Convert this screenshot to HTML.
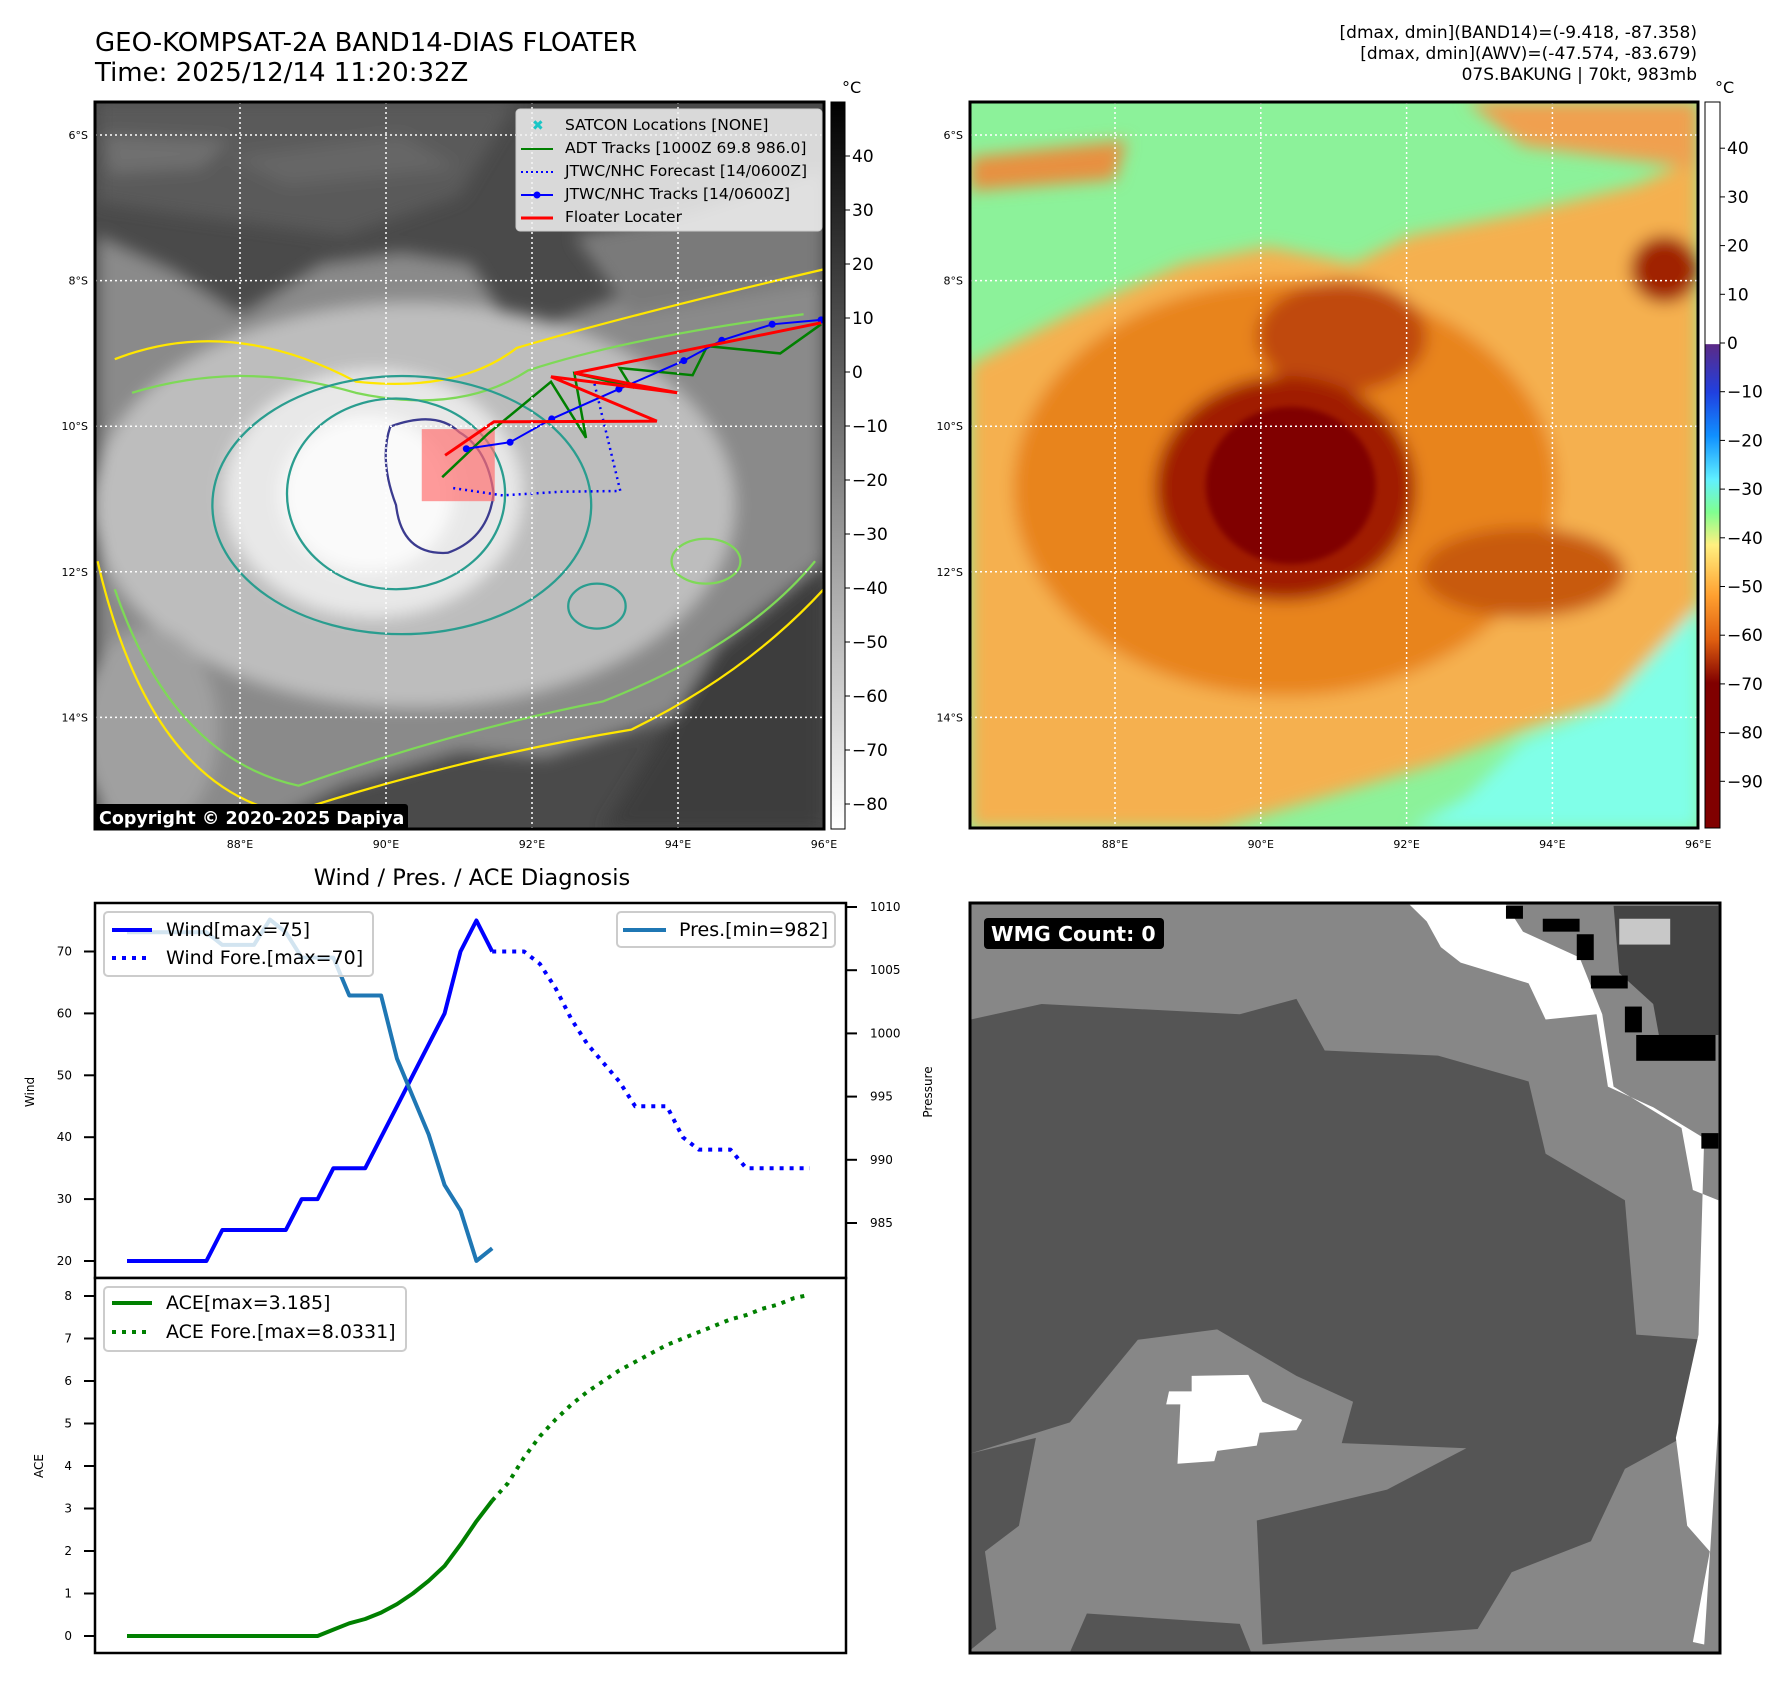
<!DOCTYPE html>
<html><head><meta charset="utf-8">
<style>
html,body{margin:0;padding:0;background:#fff;}
svg text{font-family:"DejaVu Sans","Liberation Sans",sans-serif;}
</style></head>
<body>
<svg id="root" width="1788" height="1690" viewBox="0 0 1788 1690" xmlns="http://www.w3.org/2000/svg">
<defs>
  <filter id="blur8" x="-20%" y="-20%" width="140%" height="140%"><feGaussianBlur stdDeviation="14"/></filter>
  <filter id="blur4"><feGaussianBlur stdDeviation="5"/></filter>
  <linearGradient id="cbGray" x1="0" y1="0" x2="0" y2="1">
    <stop offset="0" stop-color="#000"/><stop offset="1" stop-color="#fff"/>
  </linearGradient>
  <linearGradient id="cbColor" x1="0" y1="0" x2="0" y2="1">
    <stop offset="0" stop-color="#fff"/>
    <stop offset="0.333" stop-color="#fff"/>
    <stop offset="0.334" stop-color="#5b2a86"/>
    <stop offset="0.40" stop-color="#2040e0"/>
    <stop offset="0.46" stop-color="#1090ff"/>
    <stop offset="0.52" stop-color="#60f0ff"/>
    <stop offset="0.565" stop-color="#80ff90"/>
    <stop offset="0.61" stop-color="#fff080"/>
    <stop offset="0.68" stop-color="#ffa030"/>
    <stop offset="0.74" stop-color="#e06010"/>
    <stop offset="0.80" stop-color="#800000"/>
    <stop offset="1" stop-color="#800000"/>
  </linearGradient>
  <clipPath id="clipTL"><rect x="95" y="102" width="729" height="727"/></clipPath>
  <clipPath id="clipTR"><rect x="970" y="102" width="728" height="726"/></clipPath>
  <clipPath id="clipBR"><rect x="970" y="903" width="750" height="750"/></clipPath>
</defs>

<!-- Titles -->
<text x="95" y="51" font-size="26">GEO-KOMPSAT-2A BAND14-DIAS FLOATER</text>
<text x="95" y="81" font-size="26">Time: 2025/12/14 11:20:32Z</text>
<g font-size="17" text-anchor="end">
  <text x="1697" y="38">[dmax, dmin](BAND14)=(-9.418, -87.358)</text>
  <text x="1697" y="59">[dmax, dmin](AWV)=(-47.574, -83.679)</text>
  <text x="1697" y="80">07S.BAKUNG | 70kt, 983mb</text>
</g>

<!-- Top-left IR map -->
<g clip-path="url(#clipTL)">
  <svg x="0" y="0" width="900" height="880" viewBox="0 0 1568 1568" preserveAspectRatio="none">
    <rect x="160" y="175" width="1290" height="1310" fill="#4a4a4a"/>
    <g filter="url(#blur8)">
      <path d="M170,420 L300,480 L420,560 L560,470 L700,450 L820,470 L900,600 L1000,560 L1200,480 L1435,420 L1435,1050 L1350,1150 L1250,1250 L1100,1300 L950,1350 L800,1340 L600,1400 L450,1478 L170,1478 Z" fill="#8a8a8a"/>
      <path d="M1000,420 L1200,380 L1435,300 L1435,500 L1100,560 Z" fill="#7a7a7a"/>
      <ellipse cx="720" cy="900" rx="560" ry="360" fill="#bdbdbd"/>
      <ellipse cx="650" cy="880" rx="260" ry="220" fill="#e8e8e8"/>
      <ellipse cx="640" cy="880" rx="150" ry="140" fill="#fafafa"/>
      <ellipse cx="260" cy="1300" rx="120" ry="180" fill="#a0a0a0"/>
      <path d="M1250,1150 L1435,1000 L1435,1478 L1050,1478 Z" fill="#3c3c3c"/>
      <path d="M170,180 L900,180 L800,350 L600,420 L300,380 L170,360 Z" fill="#5a5a5a"/>
      <path d="M400,280 L700,240 L800,300 L500,330 Z" fill="#666"/>
      <path d="M180,240 L400,250 L350,300 L190,310 Z" fill="#707070"/>
    </g>
    <g fill="none" stroke-width="4">
      <path d="M200,640 Q400,560 620,680 Q800,700 900,620 Q1100,560 1435,480 M170,1000 Q260,1400 500,1450 Q800,1350 1100,1300 Q1300,1200 1435,1050" stroke="#ffe600"/>
      <path d="M230,700 Q420,640 620,700 Q800,740 920,660 Q1100,600 1400,560 M200,1050 Q300,1350 520,1400 Q800,1300 1050,1250 Q1300,1150 1420,1000" stroke="#7ed957"/>
      <ellipse cx="700" cy="900" rx="330" ry="230" stroke="#2a9d8f"/>
      <ellipse cx="690" cy="880" rx="190" ry="170" stroke="#2a9d8f"/>
      <path d="M680,760 Q760,730 800,770 Q850,800 860,880 Q850,960 780,985 Q700,990 690,900 Q660,820 680,760 Z" stroke="#3b3b8f"/>
      <ellipse cx="1040" cy="1080" rx="50" ry="40" stroke="#2a9d8f"/>
      <ellipse cx="1230" cy="1000" rx="60" ry="40" stroke="#7ed957"/>
    </g>
  </svg>
  <rect id="floaterBox" fill="#ff7070" fill-opacity="0.7"/>
  <g id="tracksTL"></g>
</g>
<g id="gridTL" stroke="#fff" stroke-width="1.5" stroke-dasharray="2,3"></g>
<rect x="95" y="102" width="729" height="727" fill="none" stroke="#000" stroke-width="3"/>
<g>
  <rect x="94" y="804" width="314" height="26" rx="3" fill="#000"/>
  <text x="99" y="824" font-size="17.5" font-weight="bold" fill="#fff">Copyright © 2020-2025 Dapiya</text>
</g>

<!-- Map legend -->
<g>
  <rect x="516" y="109" width="306" height="122" rx="4" fill="#f2f2f2" fill-opacity="0.85" stroke="#ccc"/>
  <text x="532" y="130" font-size="14" fill="#1ac6c6" font-weight="bold">✖</text>
  <text x="565" y="130" font-size="15.5">SATCON Locations [NONE]</text>
  <line x1="521" y1="149" x2="553" y2="149" stroke="#008000" stroke-width="2"/>
  <text x="565" y="153" font-size="15.5">ADT Tracks [1000Z 69.8 986.0]</text>
  <line x1="521" y1="172" x2="553" y2="172" stroke="#0000ff" stroke-width="2" stroke-dasharray="2,3"/>
  <text x="565" y="176" font-size="15.5">JTWC/NHC Forecast [14/0600Z]</text>
  <line x1="521" y1="195" x2="553" y2="195" stroke="#0000ff" stroke-width="2"/><circle cx="537" cy="195" r="3.5" fill="#0000ff"/>
  <text x="565" y="199" font-size="15.5">JTWC/NHC Tracks [14/0600Z]</text>
  <line x1="521" y1="218" x2="553" y2="218" stroke="#ff0000" stroke-width="3"/>
  <text x="565" y="222" font-size="15.5">Floater Locater</text>
</g>

<!-- Left colorbar -->
<rect x="831" y="102" width="14" height="727" fill="url(#cbGray)" stroke="#000"/>
<text x="842" y="93" font-size="16">°C</text>
<g id="cbTL" font-size="17"></g>

<!-- Top-right color map -->
<g clip-path="url(#clipTR)">
  <svg x="900" y="0" width="888" height="880" viewBox="0 0 1568 1568" preserveAspectRatio="none">
    <rect x="100" y="170" width="1330" height="1330" fill="#8cf29a"/>
    <g filter="url(#blur8)">
      <path d="M900,1476 L1000,1420 L1100,1320 L1250,1260 L1410,1080 L1410,1476 Z" fill="#80ffe8"/>
      <path d="M124,1280 L200,1300 L250,1476 L124,1476 Z" fill="#80ffe8"/>
      <path d="M124,650 L300,560 L500,470 L650,440 L800,470 L900,420 L1100,380 L1300,330 L1410,280 L1410,1080 L1250,1250 L1100,1300 L950,1360 L750,1420 L560,1476 L124,1476 Z" fill="#f5b050"/>
      <path d="M124,280 L400,250 L380,320 L124,340 Z" fill="#e89040"/>
      <path d="M1000,180 L1410,180 L1410,300 L1100,260 Z" fill="#f0a050"/>
      <ellipse cx="680" cy="870" rx="480" ry="370" fill="#e8841c"/>
      <ellipse cx="780" cy="600" rx="150" ry="100" fill="#c04a08"/>
      <ellipse cx="1100" cy="1020" rx="180" ry="80" fill="#c85a10"/>
      <ellipse cx="1350" cy="480" rx="60" ry="60" fill="#a02000"/>
      <ellipse cx="680" cy="870" rx="230" ry="200" fill="#a01a00"/>
    </g>
    <g filter="url(#blur4)">
      <ellipse cx="690" cy="865" rx="150" ry="140" fill="#800000"/>
    </g>
  </svg>
</g>
<g id="gridTR" stroke="#fff" stroke-width="1.5" stroke-dasharray="2,3"></g>
<rect x="970" y="102" width="728" height="726" fill="none" stroke="#000" stroke-width="3"/>
<rect x="1705" y="102" width="15" height="726" fill="url(#cbColor)" stroke="#000"/>
<text x="1715" y="93" font-size="16">°C</text>
<g id="cbTR" font-size="17"></g>

<!-- Bottom-right WMG -->
<g clip-path="url(#clipBR)">
  <svg x="900" y="880" width="888" height="810" viewBox="0 0 1568 1568" preserveAspectRatio="none">
    <rect x="120" y="40" width="1335" height="1460" fill="#878787"/>
    <path d="M125,270 L250,240 L600,260 L700,230 L750,330 L950,340 L1110,390 L1140,530 L1280,620 L1300,880 L1420,890 L1380,1080 L1280,1140 L1220,1280 L1080,1340 L1020,1450 L640,1480 L630,1240 L860,1180 L1000,1100 L780,1090 L800,1010 L700,960 L560,870 L420,890 L300,1050 L125,1110 Z" fill="#555"/>
    <path d="M125,1110 L240,1080 L210,1250 L150,1300 L170,1450 L125,1490 Z" fill="#555"/>
    <path d="M330,1420 L600,1440 L620,1495 L300,1495 Z" fill="#555"/>
    <path d="M900,48 L1070,48 L1100,100 L1200,150 L1240,260 L1260,400 L1380,480 L1400,600 L1445,620 L1445,1050 L1420,1480 L1400,1475 L1430,1300 L1390,1250 L1370,1080 L1410,880 L1420,500 L1330,440 L1250,400 L1230,260 L1140,270 L1110,200 L990,160 L955,130 L930,80 Z" fill="#fff"/>
    <path d="M1260,50 L1445,50 L1445,300 L1340,300 L1330,240 L1270,180 Z" fill="#444"/>
    <rect x="1270" y="75" width="90" height="50" fill="#c8c8c8"/>
    <rect x="1135" y="75" width="65" height="25" fill="#000"/>
    <rect x="1195" y="105" width="30" height="50" fill="#000"/>
    <rect x="1220" y="185" width="65" height="25" fill="#000"/>
    <rect x="1280" y="245" width="30" height="50" fill="#000"/>
    <rect x="1300" y="300" width="140" height="50" fill="#000"/>
    <rect x="1070" y="50" width="30" height="25" fill="#000"/>
    <rect x="1415" y="490" width="30" height="30" fill="#000"/>
    <path d="M515,960 L615,958 L640,1010 L710,1045 L700,1065 L635,1070 L630,1095 L560,1105 L555,1125 L490,1130 L495,1015 L470,1015 L475,990 L515,990 Z" fill="#fff"/>
  </svg>
</g>
<rect x="970" y="903" width="750" height="750" fill="none" stroke="#000" stroke-width="3"/>
<g>
  <rect x="984" y="918" width="180" height="31" rx="4" fill="#000"/>
  <text x="991" y="941" font-size="20.5" font-weight="bold" fill="#fff">WMG Count: 0</text>
</g>

<!-- Bottom-left diagnosis chart -->
<text x="472" y="885" font-size="22.5" text-anchor="middle">Wind / Pres. / ACE Diagnosis</text>
<rect x="95" y="903" width="751" height="375" fill="#fff" stroke="#000" stroke-width="2.5"/>
<rect x="95" y="1278" width="751" height="375" fill="#fff" stroke="#000" stroke-width="2.5"/>
<g id="chartMarks"></g>
<g id="chartAxes" font-size="12"></g>
<text transform="translate(34,1092) rotate(-90)" font-size="12" text-anchor="middle">Wind</text>
<text transform="translate(43,1466) rotate(-90)" font-size="12" text-anchor="middle">ACE</text>
<text transform="translate(932,1092) rotate(-90)" font-size="12" text-anchor="middle">Pressure</text>

<!-- chart legends -->
<g>
  <rect x="104" y="912" width="269" height="64" rx="4" fill="#fff" fill-opacity="0.8" stroke="#ccc" stroke-width="2"/>
  <line x1="112" y1="930" x2="152" y2="930" stroke="#0000ff" stroke-width="4"/>
  <text x="166" y="936" font-size="19">Wind[max=75]</text>
  <line x1="112" y1="958" x2="152" y2="958" stroke="#0000ff" stroke-width="4" stroke-dasharray="4,6"/>
  <text x="166" y="964" font-size="19">Wind Fore.[max=70]</text>
</g>
<g>
  <rect x="617" y="912" width="218" height="35" rx="4" fill="#fff" fill-opacity="0.8" stroke="#ccc" stroke-width="2"/>
  <line x1="623" y1="930" x2="666" y2="930" stroke="#1f77b4" stroke-width="4"/>
  <text x="679" y="936" font-size="19">Pres.[min=982]</text>
</g>
<g>
  <rect x="104" y="1287" width="302" height="64" rx="4" fill="#fff" fill-opacity="0.8" stroke="#ccc" stroke-width="2"/>
  <line x1="112" y1="1303" x2="152" y2="1303" stroke="#008000" stroke-width="4"/>
  <text x="166" y="1309" font-size="19">ACE[max=3.185]</text>
  <line x1="112" y1="1332" x2="152" y2="1332" stroke="#008000" stroke-width="4" stroke-dasharray="4,6"/>
  <text x="166" y="1338" font-size="19">ACE Fore.[max=8.0331]</text>
</g>
</svg>

<script>
// ---- Chart data ----
const windObs = [20,20,20,20,20,20,25,25,25,25,25,30,30,35,35,35,40,45,50,55,60,70,75,70];
const windFore = [70,70,70,68,64,59,55,52,49,45,45,45,40,38,38,38,35,35,35,35,35];
const presObs = [1008,1008,1008,1008,1008,1008,1007,1007,1007,1009,1008,1006,1006,1006,1003,1003,1003,998,995,992,988,986,982,983];
const aceObs = [0,0,0,0,0,0,0,0,0,0,0,0,0,0.15,0.3,0.4,0.55,0.75,1.0,1.3,1.65,2.15,2.7,3.185];
const aceFore = [3.185,3.6,4.2,4.7,5.1,5.45,5.75,6.0,6.25,6.45,6.65,6.85,7.0,7.15,7.3,7.45,7.55,7.7,7.8,7.95,8.03];
const windTicks = [20,30,40,50,60,70];
const presTicks = [985,990,995,1000,1005,1010];
const aceTicks = [0,1,2,3,4,5,6,7,8];
// ---- Map track data (lon E, lat) ----
const jtwcLon = [91.10,91.70,92.27,93.19,94.08,94.60,95.29,95.96];
const jtwcLat = [-10.31,-10.22,-9.90,-9.49,-9.10,-8.82,-8.60,-8.54];
const foreLon = [90.92,91.60,92.40,93.21,92.85];
const foreLat = [-10.85,-10.95,-10.90,-10.89,-9.39];
const adtLon = [90.77,91.40,92.26,92.74,92.58,93.36,93.20,94.20,94.40,95.40,95.96];
const adtLat = [-10.70,-10.10,-9.39,-10.16,-9.27,-9.46,-9.20,-9.30,-8.90,-9.00,-8.60];
const floaterLon = [95.96,92.58,93.99,92.26,93.71,91.48,90.81];
const floaterLat = [-8.58,-9.27,-9.54,-9.32,-9.93,-9.94,-10.40];
const floaterBoxLon = [90.49,91.49];
const floaterBoxLat = [-10.04,-11.03];
const lonTicks = [88,90,92,94,96];
const latTicks = [-6,-8,-10,-12,-14];
const cbGrayTicks = [40,30,20,10,0,-10,-20,-30,-40,-50,-60,-70,-80];
const cbColorTicks = [40,30,20,10,0,-10,-20,-30,-40,-50,-60,-70,-80,-90];

const NS='http://www.w3.org/2000/svg';
function mk(tag, attrs, parent){const e=document.createElementNS(NS,tag);for(const k in attrs)e.setAttribute(k,attrs[k]);parent.appendChild(e);return e;}

// axes
const xi = i => 127 + i*15.88;
const yWind = w => 1261 - (w-20)*6.19;
const yPres = p => 907 + (1010-p)*12.64;
const yAce = a => 1636 - a*42.5;

const marks=document.getElementById('chartMarks');
function line(vals, off, yf, color, dash, name){
  const pts=vals.map((v,i)=>xi(i+off).toFixed(1)+','+yf(v).toFixed(1)).join(' ');
  const p=mk('polyline',{points:pts,fill:'none',stroke:color,'stroke-width':4,'stroke-linejoin':'round'},marks);
  if(dash)p.setAttribute('stroke-dasharray',dash);
  
  
}
line(windObs,0,yWind,'#0000ff',null,'wind-line');
line(windFore,23,yWind,'#0000ff','4,6','wind-forecast-line');
line(presObs,0,yPres,'#1f77b4',null,'pressure-line');
line(aceObs,0,yAce,'#008000',null,'ace-line');
line(aceFore,23,yAce,'#008000','4,6','ace-forecast-line');

const axes=document.getElementById('chartAxes');
windTicks.forEach(t=>{const y=yWind(t);
  mk('line',{x1:84,y1:y,x2:95,y2:y,stroke:'#000','stroke-width':2},axes);
  const tx=mk('text',{x:72,y:y+4,'text-anchor':'end'},axes);tx.textContent=t;
  
  
});
presTicks.forEach(t=>{const y=yPres(t);
  mk('line',{x1:846,y1:y,x2:857,y2:y,stroke:'#000','stroke-width':2},axes);
  const tx=mk('text',{x:870,y:y+4},axes);tx.textContent=t;
  
  
});
aceTicks.forEach(t=>{const y=yAce(t);
  mk('line',{x1:84,y1:y,x2:95,y2:y,stroke:'#000','stroke-width':2},axes);
  const tx=mk('text',{x:72,y:y+4,'text-anchor':'end'},axes);tx.textContent=t;
  
  
});

const lxL = lon => 240 + (lon-88)*73;
const lxR = lon => 1115 + (lon-88)*72.9;
const ly = lat => 135 + (-lat-6)*72.8;
const root=document.getElementById('root');

function grid(gid, lxf, x0, x1, prefix){
  const g=document.getElementById(gid);
  lonTicks.forEach(l=>{const x=lxf(l);
    if(l<96) mk('line',{x1:x,y1:102,x2:x,y2:829},g);
    const t=mk('text',{x:x,y:848,'font-size':11,'text-anchor':'middle',stroke:'none'},root);
    t.textContent=l+'°E';
    
    
  });
  latTicks.forEach(l=>{const y=ly(l);
    mk('line',{x1:x0,y1:y,x2:x1,y2:y},g);
    const t=mk('text',{x:x0-7,y:y+4,'font-size':11,'text-anchor':'end',stroke:'none'},root);
    t.textContent=(-l)+'°S';
    
    
  });
}
grid('gridTL', lxL, 95, 824, 'ir-map');
grid('gridTR', lxR, 970, 1698, 'color-map');

// tracks
const tr=document.getElementById('tracksTL');
function track(lons, lats, color, w, dash, name, dots){
  const pts=lons.map((l,i)=>lxL(l).toFixed(1)+','+ly(lats[i]).toFixed(1)).join(' ');
  const p=mk('polyline',{points:pts,fill:'none',stroke:color,'stroke-width':w},tr);
  if(dash)p.setAttribute('stroke-dasharray',dash);
  
  
  if(dots) lons.forEach((l,i)=>{
    const c=mk('circle',{cx:lxL(l),cy:ly(lats[i]),r:3.5,fill:color},tr);
    
    
  });
}
const fb=document.getElementById('floaterBox');
fb.setAttribute('x', lxL(floaterBoxLon[0]));
fb.setAttribute('y', ly(floaterBoxLat[0]));
fb.setAttribute('width', lxL(floaterBoxLon[1])-lxL(floaterBoxLon[0]));
fb.setAttribute('height', ly(floaterBoxLat[1])-ly(floaterBoxLat[0]));
track(adtLon, adtLat, '#008000', 2.5, null, 'adt-track', false);
track(foreLon, foreLat, '#0000ff', 2.5, '2,4', 'jtwc-forecast-track', false);
track(jtwcLon, jtwcLat, '#0000ff', 2, null, 'jtwc-track', true);
track(floaterLon, floaterLat, '#ff0000', 3, null, 'floater-track', false);

// colorbars
const cbL=document.getElementById('cbTL');
cbGrayTicks.forEach(v=>{const y=156+(40-v)*5.4;
  mk('line',{x1:845,y1:y,x2:850,y2:y,stroke:'#000'},cbL);
  const t=mk('text',{x:852,y:y+6},cbL);t.textContent=(v<0?'\u2212'+(-v):v);
  
  
});
const cbR=document.getElementById('cbTR');
cbColorTicks.forEach(v=>{const y=343-v*4.87;
  mk('line',{x1:1720,y1:y,x2:1725,y2:y,stroke:'#000'},cbR);
  const t=mk('text',{x:1727,y:y+6},cbR);t.textContent=(v<0?'\u2212'+(-v):v);
  
  
});
</script>
</body></html>
